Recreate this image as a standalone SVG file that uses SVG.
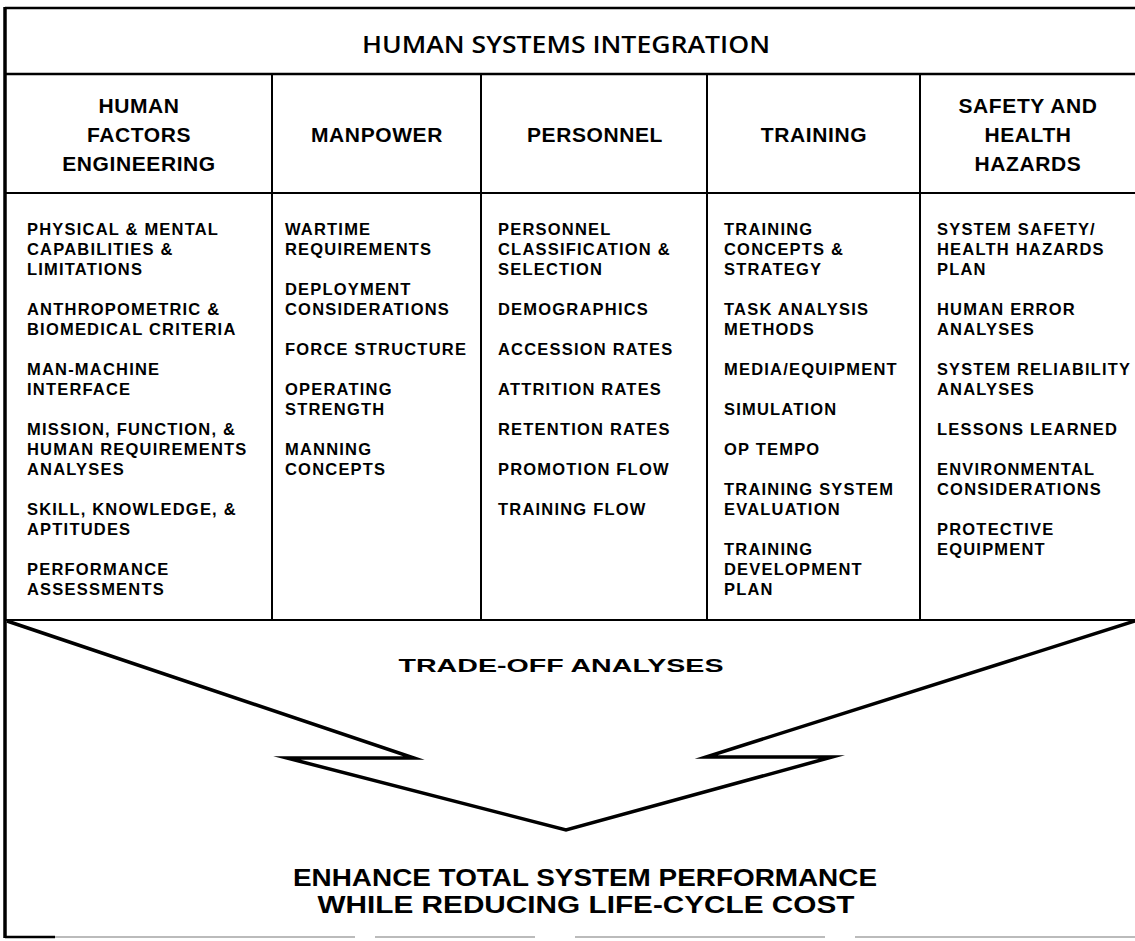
<svg xmlns="http://www.w3.org/2000/svg" width="1135" height="941" viewBox="0 0 1135 941">
<style>
.item{font-family:"Liberation Sans",Arial,sans-serif;font-weight:700;font-size:16.5px;letter-spacing:1.2px;fill:#000}
.head{font-family:"Liberation Sans",Arial,sans-serif;font-weight:700;font-size:21px;letter-spacing:0.6px;fill:#000;text-anchor:middle}
.title{font-family:"Open Sans","Liberation Sans",sans-serif;font-weight:600;font-size:24px;fill:#000;text-anchor:middle}
.big{font-family:"Liberation Sans",Arial,sans-serif;font-weight:700;fill:#000;text-anchor:middle}
.frame{stroke:#000;stroke-width:2.5;fill:none}
.div{stroke:#000;stroke-width:2;fill:none}
.arrow{stroke:#000;stroke-width:3.5;fill:none;stroke-linejoin:miter;stroke-miterlimit:20}
</style>
<rect width="1135" height="941" fill="#fff"/>
<g id="frame">
<line class="frame" x1="5" y1="8" x2="1135" y2="8"/>
<line x1="5" y1="7" x2="5" y2="938" stroke="#000" stroke-width="3.5"/>
<line class="frame" x1="5" y1="74" x2="1135" y2="74"/>
<line class="div" x1="5" y1="193" x2="1135" y2="193"/>
<line class="div" x1="5" y1="620" x2="1135" y2="620"/>
<line class="div" x1="272" y1="74" x2="272" y2="620"/>
<line class="div" x1="481" y1="74" x2="481" y2="620"/>
<line class="div" x1="707" y1="74" x2="707" y2="620"/>
<line class="div" x1="920" y1="74" x2="920" y2="620"/>
<line x1="5" y1="937" x2="55" y2="937" stroke="#000" stroke-width="2.5"/>
<line x1="55" y1="937" x2="1135" y2="937" stroke="#bbb" stroke-width="2" stroke-dasharray="300 20 160 40 250 30"/>
</g>
<g id="title"><text class="title" x="566" y="53" textLength="408" lengthAdjust="spacingAndGlyphs">HUMAN SYSTEMS INTEGRATION</text></g>
<g id="col-hfe">
<text class="head" x="139" y="113">HUMAN</text>
<text class="head" x="139" y="142">FACTORS</text>
<text class="head" x="139" y="171">ENGINEERING</text>
<text class="item" x="27" y="235">PHYSICAL &amp; MENTAL</text>
<text class="item" x="27" y="255">CAPABILITIES &amp;</text>
<text class="item" x="27" y="275">LIMITATIONS</text>
<text class="item" x="27" y="315">ANTHROPOMETRIC &amp;</text>
<text class="item" x="27" y="335">BIOMEDICAL CRITERIA</text>
<text class="item" x="27" y="375">MAN-MACHINE</text>
<text class="item" x="27" y="395">INTERFACE</text>
<text class="item" x="27" y="435">MISSION, FUNCTION, &amp;</text>
<text class="item" x="27" y="455">HUMAN REQUIREMENTS</text>
<text class="item" x="27" y="475">ANALYSES</text>
<text class="item" x="27" y="515">SKILL, KNOWLEDGE, &amp;</text>
<text class="item" x="27" y="535">APTITUDES</text>
<text class="item" x="27" y="575">PERFORMANCE</text>
<text class="item" x="27" y="595">ASSESSMENTS</text>
</g>
<g id="col-manpower">
<text class="head" x="377" y="142">MANPOWER</text>
<text class="item" x="285" y="235">WARTIME</text>
<text class="item" x="285" y="255">REQUIREMENTS</text>
<text class="item" x="285" y="295">DEPLOYMENT</text>
<text class="item" x="285" y="315">CONSIDERATIONS</text>
<text class="item" x="285" y="355">FORCE STRUCTURE</text>
<text class="item" x="285" y="395">OPERATING</text>
<text class="item" x="285" y="415">STRENGTH</text>
<text class="item" x="285" y="455">MANNING</text>
<text class="item" x="285" y="475">CONCEPTS</text>
</g>
<g id="col-personnel">
<text class="head" x="595" y="142">PERSONNEL</text>
<text class="item" x="498" y="235">PERSONNEL</text>
<text class="item" x="498" y="255">CLASSIFICATION &amp;</text>
<text class="item" x="498" y="275">SELECTION</text>
<text class="item" x="498" y="315">DEMOGRAPHICS</text>
<text class="item" x="498" y="355">ACCESSION RATES</text>
<text class="item" x="498" y="395">ATTRITION RATES</text>
<text class="item" x="498" y="435">RETENTION RATES</text>
<text class="item" x="498" y="475">PROMOTION FLOW</text>
<text class="item" x="498" y="515">TRAINING FLOW</text>
</g>
<g id="col-training">
<text class="head" x="814" y="142">TRAINING</text>
<text class="item" x="724" y="235">TRAINING</text>
<text class="item" x="724" y="255">CONCEPTS &amp;</text>
<text class="item" x="724" y="275">STRATEGY</text>
<text class="item" x="724" y="315">TASK ANALYSIS</text>
<text class="item" x="724" y="335">METHODS</text>
<text class="item" x="724" y="375">MEDIA/EQUIPMENT</text>
<text class="item" x="724" y="415">SIMULATION</text>
<text class="item" x="724" y="455">OP TEMPO</text>
<text class="item" x="724" y="495">TRAINING SYSTEM</text>
<text class="item" x="724" y="515">EVALUATION</text>
<text class="item" x="724" y="555">TRAINING</text>
<text class="item" x="724" y="575">DEVELOPMENT</text>
<text class="item" x="724" y="595">PLAN</text>
</g>
<g id="col-safety">
<text class="head" x="1028" y="113">SAFETY AND</text>
<text class="head" x="1028" y="142">HEALTH</text>
<text class="head" x="1028" y="171">HAZARDS</text>
<text class="item" x="937" y="235">SYSTEM SAFETY/</text>
<text class="item" x="937" y="255">HEALTH HAZARDS</text>
<text class="item" x="937" y="275">PLAN</text>
<text class="item" x="937" y="315">HUMAN ERROR</text>
<text class="item" x="937" y="335">ANALYSES</text>
<text class="item" x="937" y="375" textLength="194" lengthAdjust="spacingAndGlyphs">SYSTEM RELIABILITY</text>
<text class="item" x="937" y="395">ANALYSES</text>
<text class="item" x="937" y="435">LESSONS LEARNED</text>
<text class="item" x="937" y="475">ENVIRONMENTAL</text>
<text class="item" x="937" y="495">CONSIDERATIONS</text>
<text class="item" x="937" y="535">PROTECTIVE</text>
<text class="item" x="937" y="555">EQUIPMENT</text>
</g>
<g id="connectors">
<polyline class="arrow" points="7,621 414,758 287,758 566,830 832,757 706,757 1135,621"/>
</g>
<g id="tradeoff"><text class="big" x="561" y="672" font-size="19" textLength="325" lengthAdjust="spacingAndGlyphs">TRADE-OFF ANALYSES</text></g>
<g id="goal">
<text class="big" x="585" y="886" font-size="23" textLength="584" lengthAdjust="spacingAndGlyphs">ENHANCE TOTAL SYSTEM PERFORMANCE</text>
<text class="big" x="586" y="913" font-size="23" textLength="537" lengthAdjust="spacingAndGlyphs">WHILE REDUCING LIFE-CYCLE COST</text>
</g>
</svg>
